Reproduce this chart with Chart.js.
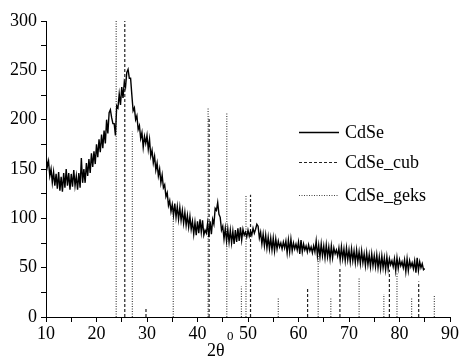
<!DOCTYPE html>
<html>
<head>
<meta charset="utf-8">
<script src="https://cdn.jsdelivr.net/npm/chart.js@4.4.1/dist/chart.umd.min.js"></script>
<style>
  html, body { margin: 0; padding: 0; background: #fff; }
  #wrap { position: relative; width: 460px; height: 356px; }
</style>
</head>
<body>
<div id="wrap"><canvas id="chart" width="460" height="356"></canvas></div>
<script>
// measured CdSe pattern, sampled every 0.25 deg from 10 deg
const cdseStart = 10;
const cdseStep = 0.25;
const cdseIntensity = [
  165, 152, 158, 143,  150, 136, 147, 133,  145, 130, 147, 128,  142, 127, 146, 131,
  150, 133, 146, 129,  145, 132, 149, 133,  143, 129, 146, 131,  161, 136, 150, 136,
  156, 143, 160, 146,  166, 152, 168, 155,  175, 162, 180, 167,  185, 171, 189, 176,
  200, 186, 207, 210,  202, 196, 196, 184,  214, 212, 226, 215,  233, 222, 238, 233,
  248, 251, 242, 242,  225, 209, 212, 200,  204, 190, 194, 181,  187, 172, 183, 176,
  184, 170, 180, 163,  169, 156, 163, 149,  156, 143, 150, 136,  144, 131, 134, 122,
  126, 113, 118, 107,  114, 103, 115, 101,  112, 99, 111, 98,   108, 95, 106, 93,
  103, 91, 102, 89,    97, 84, 96, 83,      97, 85, 99, 86,      98, 83, 88, 85,
  95, 81, 97, 84,      99, 94, 110, 108,    116, 104, 101, 88,   92, 79, 90, 77,
  89, 76, 88, 75,      87, 74, 88, 76,      90, 77, 91, 78,      89, 83, 86, 81,
  88, 82, 87, 83,      90, 85, 89, 94,      92, 80, 86, 74,      84, 72, 83, 70,
  81, 69, 80, 68,      80, 67, 79, 69,      77, 71, 75, 69,      76, 70, 77, 65,
  78, 66, 79, 67,      75, 69, 74, 68,      76, 64, 78, 66,      74, 68, 72, 66,
  73, 67, 71, 65,      72, 66, 77, 62,      73, 61, 74, 62,      72, 60, 73, 61,
  71, 59, 72, 60,      70, 64, 68, 62,      70, 58, 71, 59,      69, 57, 70, 58,
  68, 56, 69, 57,      67, 55, 68, 56,      66, 54, 67, 55,      64, 52, 65, 53,
  63, 51, 64, 52,      62, 51, 63, 50,      61, 49, 62, 50,      60, 48, 61, 49,
  59, 53, 57, 51,      59, 47, 60, 49,      58, 52, 56, 50,      58, 46, 59, 47,
  57, 51, 55, 49,      57, 45, 60, 47,      56, 50, 54, 48,      49
];

// reference lines (2theta, intensity)
const cubPos    = [25.6, 29.8, 42.3, 50.5, 61.8, 68.2, 78.0, 83.8];
const cubHeight = [300,  9,    203,  124,  30,   49,   48,   36];
const geksPos    = [23.9, 27.1, 35.2, 42.1, 45.8, 48.7, 49.6, 56.0, 63.9, 66.4, 72.0, 76.9, 79.5, 82.4, 86.9];
const geksHeight = [300,  188,  110,  212,  207,  31,   124,  19,   63,   20,   40,   23,   44,   19,   22];

const xTicks = [10, 20, 30, 40, 50, 60, 70, 80, 90];
const yTicks = [0, 50, 100, 150, 200, 250, 300];

const FONT = "'Liberation Serif', 'DejaVu Serif', serif";

const cdsePoints = cdseIntensity.map((y, i) => ({ x: cdseStart + i * cdseStep, y: y }));

function stickPoints(pos, heights) {
  const pts = [];
  pos.forEach((p, i) => {
    pts.push({ x: p, y: 0 }, { x: p, y: heights[i] }, { x: p, y: null });
  });
  return pts;
}

const legendItems = [
  { label: "CdSe", color: "#000", width: 1.5, dash: [], y: 132 },
  { label: "CdSe_cub", color: "#222", width: 1.2, dash: [3, 2], y: 162 },
  { label: "CdSe_geks", color: "#444", width: 1.2, dash: [1, 1.5], y: 195 }
];

// legend + axis title drawn by hand to match the original layout
const decorPlugin = {
  id: "decor",
  afterDraw(chart) {
    const ctx = chart.ctx;
    ctx.save();
    legendItems.forEach((it) => {
      ctx.beginPath();
      ctx.strokeStyle = it.color;
      ctx.lineWidth = it.width;
      ctx.setLineDash(it.dash);
      ctx.moveTo(299, it.y + 0.5);
      ctx.lineTo(339, it.y + 0.5);
      ctx.stroke();
      ctx.setLineDash([]);
      ctx.fillStyle = "#000";
      ctx.font = "18px " + FONT;
      ctx.textBaseline = "middle";
      ctx.textAlign = "left";
      ctx.fillText(it.label, 345, it.y + 1);
    });
    ctx.fillStyle = "#000";
    ctx.font = "18px " + FONT;
    ctx.textBaseline = "alphabetic";
    ctx.textAlign = "left";
    ctx.fillText("2\u03b8", 207, 356);
    ctx.font = "13px " + FONT;
    ctx.fillText("0", 227, 340);
    ctx.restore();
  }
};

const axisStyle = {
  grid: { display: true, drawOnChartArea: false, drawTicks: true, tickLength: 5, color: "#000", lineWidth: 1 },
  border: { display: true, color: "#000", width: 1 }
};

function draw() {
  new Chart(document.getElementById("chart").getContext("2d"), {
    type: "scatter",
    data: {
      datasets: [
        {
          label: "CdSe",
          data: cdsePoints,
          showLine: true,
          borderColor: "#000",
          borderWidth: 1.4,
          pointRadius: 0,
          tension: 0
        },
        {
          label: "CdSe_cub",
          data: stickPoints(cubPos, cubHeight),
          showLine: true,
          spanGaps: false,
          borderColor: "#222",
          borderWidth: 1.2,
          borderDash: [3, 2],
          pointRadius: 0
        },
        {
          label: "CdSe_geks",
          data: stickPoints(geksPos, geksHeight),
          showLine: true,
          spanGaps: false,
          borderColor: "#444",
          borderWidth: 1.2,
          borderDash: [1, 1.5],
          pointRadius: 0
        }
      ]
    },
    options: {
      responsive: false,
      animation: false,
      layout: { padding: { top: 21, right: 10, left: 0, bottom: 0 } },
      plugins: {
        legend: { display: false },
        tooltip: { enabled: false }
      },
      scales: {
        x: {
          type: "linear",
          min: 10,
          max: 90,
          ...axisStyle,
          afterFit: (scale) => { scale.height = 39; },
          afterBuildTicks: (scale) => {
            const t = [];
            for (let v = 10; v <= 90; v += 5) t.push({ value: v });
            scale.ticks = t;
          },
          ticks: {
            color: "#000",
            padding: 1,
            maxRotation: 0,
            font: { family: FONT, size: 18 },
            callback: (v) => (xTicks.includes(v) ? String(v) : "")
          }
        },
        y: {
          type: "linear",
          min: 0,
          max: 300,
          ...axisStyle,
          afterFit: (scale) => { scale.width = 46; },
          afterBuildTicks: (scale) => {
            const t = [];
            for (let v = 0; v <= 300; v += 25) t.push({ value: v });
            scale.ticks = t;
          },
          ticks: {
            color: "#000",
            padding: 4,
            font: { family: FONT, size: 18 },
            callback: (v) => (yTicks.includes(v) ? String(v) : "")
          }
        }
      }
    },
    plugins: [decorPlugin]
  });
}

if (document.fonts && document.fonts.load) {
  document.fonts.load("18px 'Liberation Serif'").then(draw, draw);
} else {
  draw();
}
</script>
</body>
</html>
